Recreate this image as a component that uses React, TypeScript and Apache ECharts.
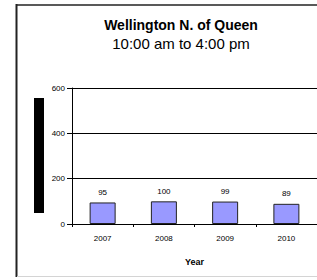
import React, { useEffect, useRef } from "react";
import * as echarts from "echarts";

const titleText = "Wellington N. of Queen";
const subtitleText = "10:00 am to 4:00 pm";
const years = ["2007", "2008", "2009", "2010"];
const counts = [95, 100, 99, 89];
const xAxisName = "Year";

export default function App() {
  const ref = useRef<HTMLDivElement>(null);
  useEffect(() => {
    if (!ref.current) return;
    const chart = echarts.init(ref.current, null, { renderer: "svg" });
    const font = "Liberation Sans, Arial, sans-serif";
    chart.setOption({
      animation: false,
      backgroundColor: "#ffffff",
      title: {
        text: titleText,
        subtext: subtitleText,
        left: 176,
        top: 13,
        textAlign: "center",
        itemGap: 4,
        textStyle: { fontFamily: font, fontSize: 14, fontWeight: "bold", color: "#000" },
        subtextStyle: { fontFamily: font, fontSize: 15, color: "#000" },
      },
      grid: { left: 72, right: -3, top: 88, bottom: 56, containLabel: false },
      xAxis: {
        type: "category",
        data: years,
        name: xAxisName,
        nameLocation: "middle",
        nameGap: 33,
        nameTextStyle: { fontFamily: font, fontSize: 9, fontWeight: "bold", color: "#000" },
        axisLine: { lineStyle: { color: "#000", width: 1 } },
        axisTick: { show: true, alignWithLabel: false, length: 3, lineStyle: { color: "#000" } },
        axisLabel: { fontFamily: font, fontSize: 8, color: "#000", margin: 10 },
      },
      yAxis: {
        type: "value",
        min: 0,
        max: 600,
        interval: 200,
        axisLine: { show: true, lineStyle: { color: "#000", width: 1 } },
        axisTick: { show: true, length: 5, lineStyle: { color: "#000" } },
        axisLabel: { fontFamily: font, fontSize: 8, color: "#000", margin: 7 },
        splitLine: { show: true, lineStyle: { color: "#000", width: 1 } },
      },
      series: [
        {
          type: "bar",
          data: counts,
          barWidth: 26,
          itemStyle: { color: "#9999ff", borderColor: "#222", borderWidth: 1 },
          label: {
            show: true,
            position: "top",
            distance: 6,
            fontFamily: font,
            fontSize: 8,
            color: "#000",
          },
        },
      ],
      graphic: [
        { type: "rect", shape: { x: 34, y: 98, width: 10, height: 115 }, style: { fill: "#000" } },
        { type: "line", shape: { x1: 16, y1: 5, x2: 317, y2: 5 }, style: { stroke: "#222", lineWidth: 1.5 } },
        { type: "line", shape: { x1: 16.5, y1: 4, x2: 16.5, y2: 277 }, style: { stroke: "#222", lineWidth: 2 } },
        { type: "line", shape: { x1: 17, y1: 276.5, x2: 317, y2: 276.5 }, style: { stroke: "#d4d4d4", lineWidth: 1 } },
      ],
    });
    return () => chart.dispose();
  }, []);
  return (
    <div
      ref={ref}
      style={{ position: "fixed", left: 0, top: 0, width: 317, height: 280 }}
    />
  );
}
